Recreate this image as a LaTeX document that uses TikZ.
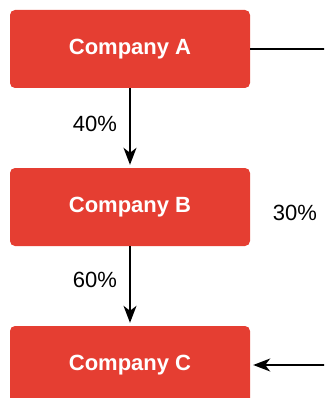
\documentclass[tikz,border=0pt]{standalone}
\usepackage{fontspec}
\setmainfont{Liberation Sans}
\usetikzlibrary{arrows.meta}
\definecolor{boxred}{RGB}{229,62,50}
\begin{document}
\begin{tikzpicture}[x=1pt, y=-1pt,
		company/.style={rectangle, rounded corners=5pt, fill=boxred, text=white,
			minimum width=240pt, minimum height=78pt, font=\fontsize{22}{26}\selectfont\bfseries},
		share/.style={line width=1.5pt, black, -{Stealth[length=17pt, width=13pt, inset=5pt]}, shorten >=3pt},
		pct/.style={black, font=\fontsize{22}{26}\selectfont}]
		\useasboundingbox (0,0) rectangle (324,398);
		\clip (0,0) rectangle (324,398);
		\node[company] (compA) at (130,49) {Company A};
		\node[company] (compB) at (130,207) {Company B};
		\node[company] (compC) at (130,365) {Company C};
		\coordinate (cornerA) at (340,49);
		\coordinate (cornerC) at (340,365);
		\draw[share] (compA) -- node[pct, left=9pt, pos=.45] {40\%} (compB);
		\draw[share] (compB) -- node[pct, left=9pt, pos=.42] {60\%} (compC);
		\draw[share] (compA) -- (cornerA) -- node[pct, left=19pt, pos=.52] {30\%} (cornerC) -- (compC);
	\end{tikzpicture}
\end{document}
